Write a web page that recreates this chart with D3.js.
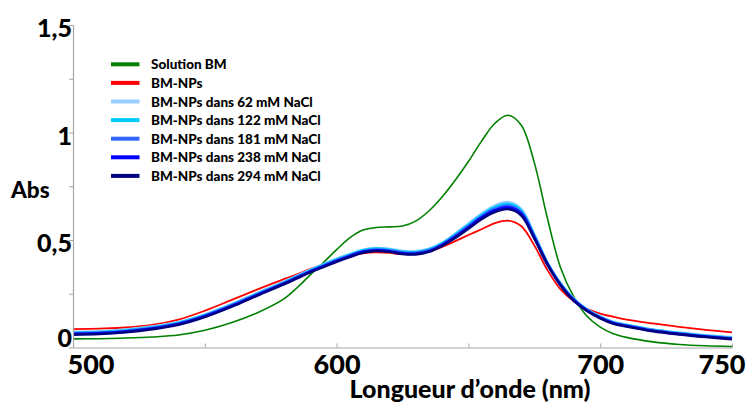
<!DOCTYPE html>
<html>
<head>
<meta charset="utf-8">
<script src="https://cdn.jsdelivr.net/npm/d3@7"></script>
<style>
  html, body { margin: 0; padding: 0; background: #fff; }
  svg { display: block; font-family: "Lato", "Open Sans", sans-serif; font-weight: 900; }
</style>
</head>
<body>
<svg id="chart" width="750" height="405"></svg>
<script>
// ---- data ----
const wavelengths = [500,510,520,530,540,550,560,570,580,585,590,595,600,605,610,615,620,625,630,635,640,645,650,655,660,665,670,675,680,685,690,695,700,705,710,720,730,740,750];

const seriesNames = ["Solution BM","BM-NPs","BM-NPs dans 62 mM NaCl","BM-NPs dans 122 mM NaCl","BM-NPs dans 181 mM NaCl","BM-NPs dans 238 mM NaCl","BM-NPs dans 294 mM NaCl"];
const seriesColors = ["#008000","#ff0000","#99ccff","#00ccff","#3366ff","#0000ff","#000080"];

const solutionBM = [0.040,0.041,0.044,0.049,0.058,0.080,0.115,0.162,0.226,0.278,0.338,0.395,0.455,0.510,0.546,0.558,0.561,0.565,0.588,0.635,0.700,0.778,0.865,0.960,1.042,1.080,1.035,0.860,0.600,0.370,0.235,0.145,0.095,0.064,0.047,0.026,0.014,0.008,0.005];
const bmNPs = [0.085,0.088,0.093,0.105,0.130,0.171,0.220,0.270,0.318,0.340,0.366,0.386,0.408,0.426,0.438,0.442,0.440,0.434,0.435,0.446,0.468,0.495,0.523,0.550,0.578,0.590,0.565,0.475,0.360,0.270,0.215,0.180,0.158,0.143,0.130,0.112,0.096,0.082,0.070];
const nacl62 = [0.072,0.075,0.083,0.097,0.118,0.154,0.201,0.254,0.306,0.334,0.362,0.388,0.413,0.435,0.455,0.463,0.459,0.449,0.447,0.459,0.487,0.530,0.577,0.623,0.660,0.676,0.645,0.527,0.395,0.298,0.227,0.178,0.144,0.119,0.106,0.084,0.069,0.057,0.047];
const nacl122 = [0.069,0.072,0.080,0.094,0.115,0.151,0.198,0.251,0.303,0.331,0.359,0.385,0.410,0.432,0.452,0.460,0.456,0.446,0.444,0.456,0.484,0.525,0.571,0.617,0.653,0.668,0.638,0.522,0.393,0.296,0.225,0.176,0.142,0.117,0.104,0.082,0.067,0.055,0.045];
const nacl181 = [0.066,0.069,0.077,0.091,0.112,0.148,0.195,0.248,0.300,0.328,0.356,0.381,0.406,0.428,0.448,0.456,0.452,0.442,0.440,0.452,0.480,0.520,0.565,0.610,0.645,0.660,0.630,0.517,0.390,0.293,0.222,0.174,0.140,0.115,0.102,0.080,0.065,0.053,0.043];
const nacl238 = [0.063,0.066,0.074,0.088,0.109,0.145,0.192,0.245,0.297,0.325,0.353,0.378,0.403,0.425,0.445,0.452,0.448,0.438,0.436,0.448,0.476,0.515,0.559,0.604,0.638,0.652,0.623,0.512,0.388,0.291,0.220,0.172,0.138,0.113,0.100,0.078,0.063,0.051,0.041];
const nacl294 = [0.060,0.063,0.071,0.085,0.106,0.142,0.189,0.242,0.294,0.322,0.350,0.374,0.399,0.421,0.441,0.449,0.445,0.435,0.433,0.445,0.473,0.510,0.553,0.597,0.630,0.644,0.615,0.507,0.385,0.288,0.217,0.170,0.136,0.111,0.098,0.076,0.061,0.049,0.039];

const xTickValues = [500,550,600,650,700,750];
const xTickLabels = ["500","","600","","700","750"];
const yTickValues = [0,0.25,0.5,0.75,1,1.25,1.5];
const yTickLabels = ["0","","0,5","","1","","1,5"];

const allSeries = [solutionBM, bmNPs, nacl62, nacl122, nacl181, nacl238, nacl294];
const lineWidths = [1.6, 1.8, 2.6, 2.6, 2.6, 2.6, 2.6];

// ---- chart ----
const svg = d3.select("#chart");
const x = d3.scaleLinear().domain([500, 750]).range([73, 732]);
const y = d3.scaleLinear().domain([0, 1.5]).range([347.5, 25]);

// lines
const line = d3.line()
  .x((d, i) => x(wavelengths[i]))
  .y(d => y(d))
  .curve(d3.curveCatmullRom.alpha(0.5));

allSeries.forEach((s, k) => {
  svg.append("path")
    .datum(s)
    .attr("fill", "none")
    .attr("stroke", seriesColors[k])
    .attr("stroke-width", lineWidths[k])
    .attr("stroke-linejoin", "round")
    .attr("d", line);
});

// x axis
const xAxis = d3.axisBottom(x)
  .tickValues(xTickValues)
  .tickFormat((d, i) => xTickLabels[i])
  .tickSizeInner(-4)
  .tickSizeOuter(0)
  .tickPadding(7);
const gx = svg.append("g").attr("transform", "translate(0,347.5)").call(xAxis);
gx.select(".domain").attr("stroke", "#a6a6a6").attr("stroke-width", 1.2);
gx.selectAll(".tick line").attr("stroke", "#a6a6a6");
gx.selectAll(".tick text")
  .attr("fill", "#000")
  .style("font-size", "27px")
  .style("font-family", "Lato, sans-serif")
  .style("font-weight", "900");
gx.selectAll(".tick text").filter(d => d === 500).attr("text-anchor", "start").attr("dx", -6);
gx.selectAll(".tick text").filter(d => d === 750).attr("text-anchor", "end").attr("dx", 13);

// y axis
const yAxis = d3.axisLeft(y)
  .tickValues(yTickValues)
  .tickFormat((d, i) => yTickLabels[i])
  .tickSizeInner(4)
  .tickSizeOuter(0)
  .tickPadding(0);
const gy = svg.append("g").attr("transform", "translate(73,0)").call(yAxis);
gy.select(".domain").attr("stroke", "#a6a6a6").attr("stroke-width", 1.2);
gy.selectAll(".tick line").attr("stroke", "#a6a6a6");
gy.selectAll(".tick text")
  .attr("fill", "#000")
  .attr("x", -1)
  .attr("dy", "0.32em")
  .attr("y", d => d === 0 ? -9.5 : 3.5)
  .style("font-size", "25px")
  .style("font-family", "Lato, sans-serif")
  .style("font-weight", "900");

// axis titles
svg.append("text")
  .attr("x", 11).attr("y", 198)
  .attr("text-anchor", "start")
  .style("font-size", "22.5px")
  .text("Abs");

svg.append("text")
  .attr("x", 470).attr("y", 398)
  .attr("text-anchor", "middle")
  .style("font-size", "25px")
  .text("Longueur d\u2019onde (nm)");

// legend
const legend = svg.append("g");
seriesNames.forEach((name, k) => {
  const cy = 64.3 + k * 18.6;
  legend.append("line")
    .attr("x1", 111).attr("x2", 139.5)
    .attr("y1", cy).attr("y2", cy)
    .attr("stroke", seriesColors[k])
    .attr("stroke-width", 4);
  legend.append("text")
    .attr("x", 151).attr("y", cy + 5)
    .style("font-size", "13.5px")
    .text(name);
});
</script>
</body>
</html>
